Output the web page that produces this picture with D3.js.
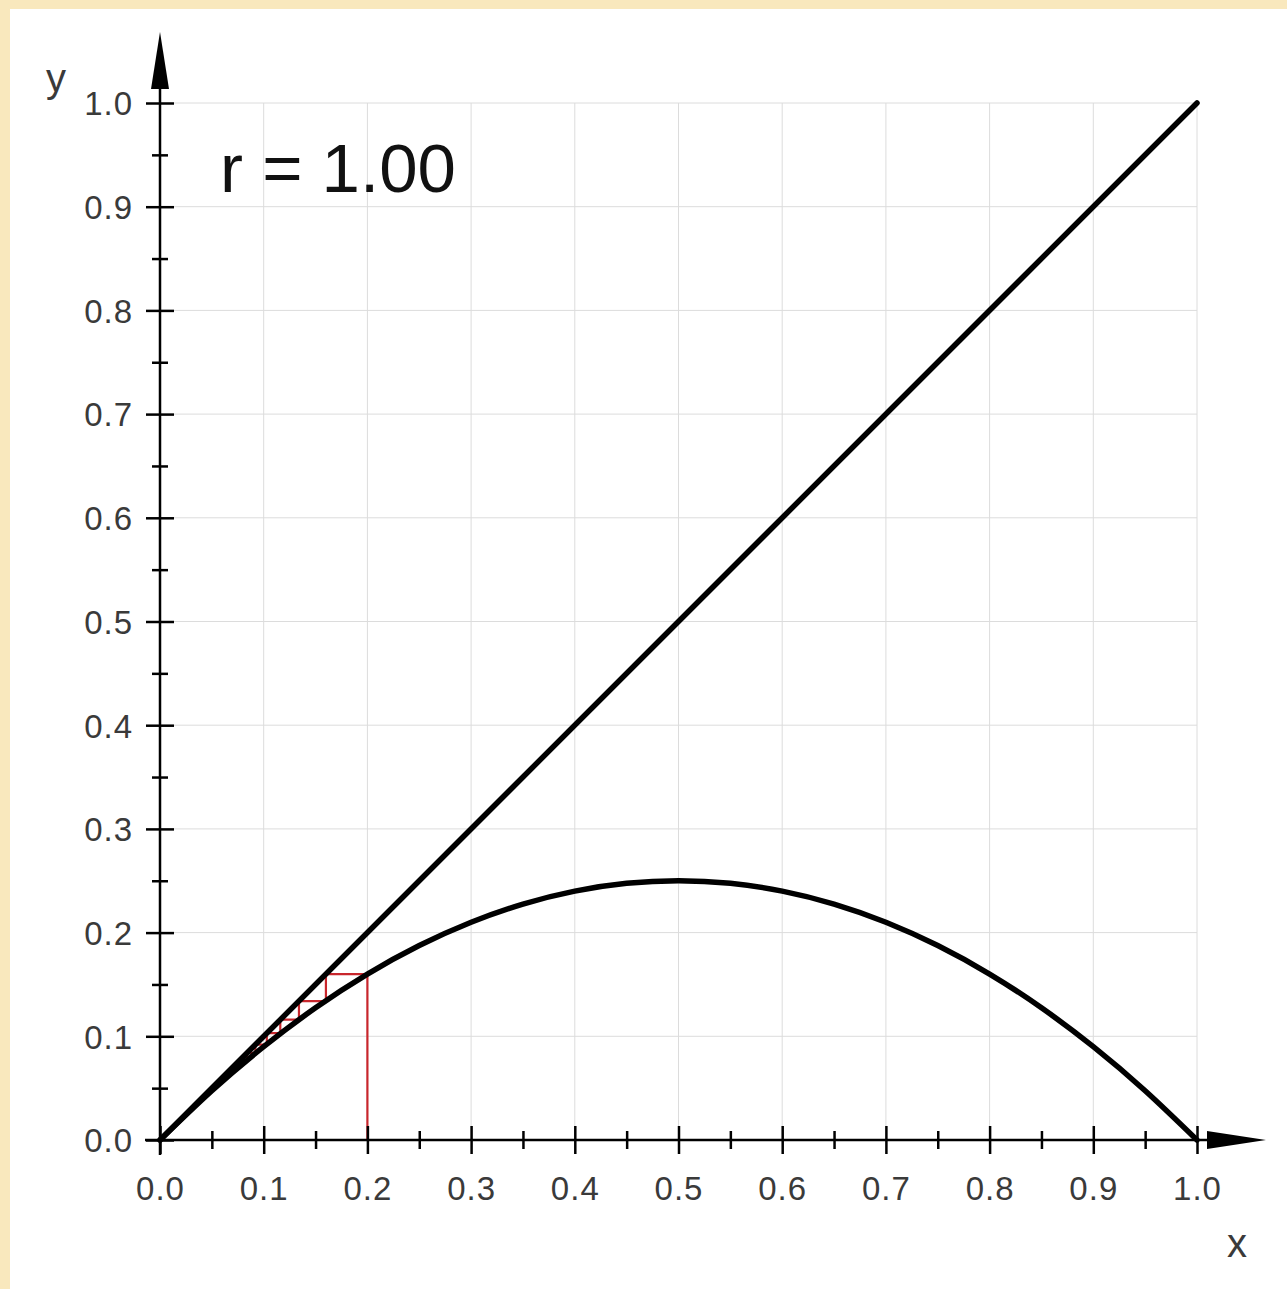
<!DOCTYPE html>
<html>
<head>
<meta charset="utf-8">
<script src="https://cdn.jsdelivr.net/npm/d3@7"></script>
<style>
  html, body { margin: 0; padding: 0; background: #fff; }
  svg { display: block; }
  text { font-family: "Liberation Sans", Arial, sans-serif; }
</style>
</head>
<body>
<svg id="chart"></svg>
<script>
// values
const rValue = "1.00";
const majorTicks = [0, 0.1, 0.2, 0.3, 0.4, 0.5, 0.6, 0.7, 0.8, 0.9, 1.0];
const minorTicks = [0.05, 0.15, 0.25, 0.35, 0.45, 0.55, 0.65, 0.75, 0.85, 0.95];
const curveX = [0, 0.05, 0.1, 0.15, 0.2, 0.25, 0.3, 0.35, 0.4, 0.45, 0.5, 0.55, 0.6, 0.65, 0.7, 0.75, 0.8, 0.85, 0.9, 0.95, 1.0];
const curveY = [0, 0.0475, 0.09, 0.1275, 0.16, 0.1875, 0.21, 0.2275, 0.24, 0.2475, 0.25, 0.2475, 0.24, 0.2275, 0.21, 0.1875, 0.16, 0.1275, 0.09, 0.0475, 0];
const diagX = [0, 1];
const diagY = [0, 1];
// cobweb orbit starting at 0.2
const orbit = [0.2, 0.16, 0.134, 0.116, 0.103, 0.092, 0.084, 0.077, 0.071, 0.066, 0.062, 0.058, 0.055, 0.052, 0.049, 0.047, 0.045, 0.043, 0.041, 0.039, 0.037, 0.036, 0.035, 0.034, 0.032, 0.031, 0.03];

const width = 1287, height = 1289;
const svg = d3.select("#chart").attr("width", width).attr("height", height);

const x = d3.scaleLinear().domain([0, 1]).range([160, 1197]);
const y = d3.scaleLinear().domain([0, 1]).range([1140, 103]);

// background with beige frame on top/left
svg.append("rect").attr("width", width).attr("height", height).attr("fill", "#f9e8bd");
svg.append("rect").attr("x", 10).attr("y", 9).attr("width", width - 10).attr("height", height - 9).attr("fill", "#ffffff");

// grid
const grid = svg.append("g").attr("stroke", "#dcdcdc").attr("stroke-width", 1);
grid.selectAll(".gx").data(majorTicks.slice(1)).join("line")
    .attr("x1", d => x(d)).attr("x2", d => x(d))
    .attr("y1", y(0)).attr("y2", y(1));
grid.selectAll(".gy").data(majorTicks.slice(1)).join("line")
    .attr("y1", d => y(d)).attr("y2", d => y(d))
    .attr("x1", x(0)).attr("x2", x(1));

// cobweb (under the curves)
const web = [[orbit[0], 0]];
for (let i = 0; i < orbit.length - 1; i++) {
    web.push([orbit[i], orbit[i + 1]]);
    web.push([orbit[i + 1], orbit[i + 1]]);
}
web.push([0, 0]);
svg.append("path")
    .attr("d", d3.line().x(d => x(d[0])).y(d => y(d[1]))(web))
    .attr("fill", "none").attr("stroke", "#c8262c").attr("stroke-width", 2.2);

// diagonal and parabola
svg.append("path")
    .attr("d", d3.line().x(d => x(d[0])).y(d => y(d[1]))(diagX.map((v, i) => [v, diagY[i]])))
    .attr("fill", "none").attr("stroke", "#000").attr("stroke-width", 5.5).attr("stroke-linecap", "round");

svg.append("path")
    .attr("d", d3.line().curve(d3.curveNatural).x(d => x(d[0])).y(d => y(d[1]))(curveX.map((v, i) => [v, curveY[i]])))
    .attr("fill", "none").attr("stroke", "#000").attr("stroke-width", 5.5).attr("stroke-linecap", "round");

// axes
const axes = svg.append("g").attr("stroke", "#000").attr("stroke-width", 2.5);
axes.append("line").attr("x1", x(0) - 15).attr("x2", 1215).attr("y1", y(0)).attr("y2", y(0));
axes.append("line").attr("x1", x(0)).attr("x2", x(0)).attr("y1", y(0) + 15).attr("y2", 80);

svg.append("path").attr("d", "M1207,1131 L1266,1140 L1207,1149 Z").attr("fill", "#000");
svg.append("path").attr("d", "M151,89 L160,32 L169,89 Z").attr("fill", "#000");

// x axis ticks and labels
const xAxis = svg.append("g").attr("transform", `translate(0,${y(0)})`)
    .call(d3.axisBottom(x).tickValues(majorTicks).tickFormat(d3.format(".1f")).tickSize(14).tickSizeOuter(0));
xAxis.select(".domain").remove();
xAxis.selectAll(".tick line").attr("y1", -14).attr("y2", 14).attr("stroke", "#000").attr("stroke-width", 2.5);
xAxis.selectAll(".tick text").attr("y", 60).attr("dy", 0).attr("font-size", 33)
    .attr("letter-spacing", 1).attr("fill", "#3a3a3a");

const xMinor = svg.append("g").attr("transform", `translate(0,${y(0)})`)
    .call(d3.axisBottom(x).tickValues(minorTicks).tickFormat("").tickSize(9).tickSizeOuter(0));
xMinor.select(".domain").remove();
xMinor.selectAll(".tick line").attr("y1", -9).attr("y2", 9).attr("stroke", "#000").attr("stroke-width", 2.5);

// y axis ticks and labels
const yAxis = svg.append("g").attr("transform", `translate(${x(0)},0)`)
    .call(d3.axisLeft(y).tickValues(majorTicks).tickFormat(d3.format(".1f")).tickSize(14).tickSizeOuter(0));
yAxis.select(".domain").remove();
yAxis.selectAll(".tick line").attr("x1", -14).attr("x2", 14).attr("stroke", "#000").attr("stroke-width", 2.5);
yAxis.selectAll(".tick text").attr("x", -27).attr("dy", "0.36em").attr("font-size", 33)
    .attr("letter-spacing", 1).attr("fill", "#3a3a3a");

const yMinor = svg.append("g").attr("transform", `translate(${x(0)},0)`)
    .call(d3.axisLeft(y).tickValues(minorTicks).tickFormat("").tickSize(8).tickSizeOuter(0));
yMinor.select(".domain").remove();
yMinor.selectAll(".tick line").attr("x1", -8).attr("x2", 8).attr("stroke", "#000").attr("stroke-width", 2.5);

// axis names
svg.append("text").attr("x", 56).attr("y", 92).attr("text-anchor", "middle")
    .attr("font-size", 40).attr("fill", "#3a3a3a").text("y");
svg.append("text").attr("x", 1237).attr("y", 1257).attr("text-anchor", "middle")
    .attr("font-size", 40).attr("fill", "#3a3a3a").text("x");

// parameter label
svg.append("text").attr("x", 220).attr("y", 192)
    .attr("font-size", 69).attr("fill", "#111").text(`r = ${rValue}`);
</script>
</body>
</html>
